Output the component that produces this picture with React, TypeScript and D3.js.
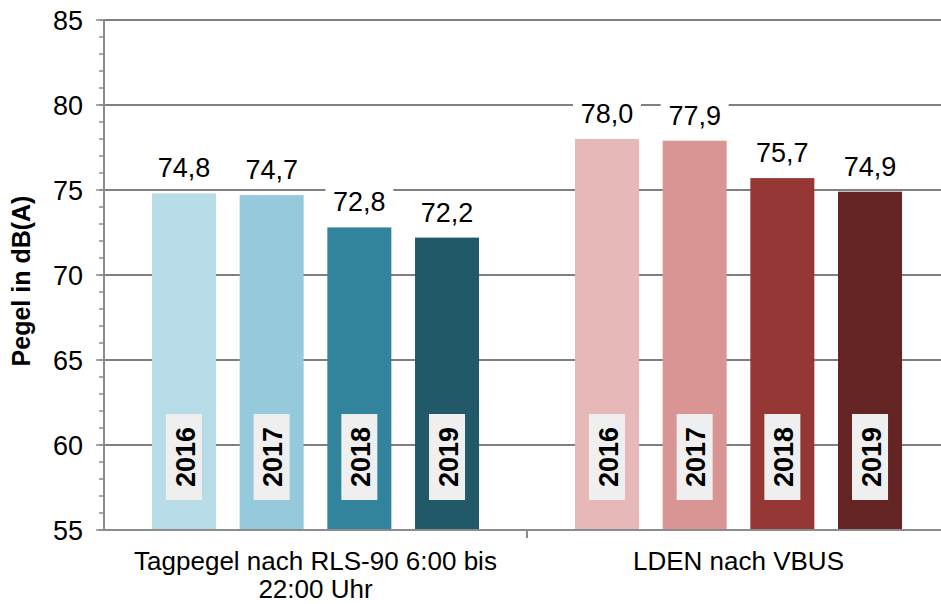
import React from "react";
import * as d3 from "d3";

const categories = ["Tagpegel nach RLS-90 6:00 bis|22:00 Uhr", "LDEN nach VBUS"];
const years = ["2016", "2017", "2018", "2019"];
const tagValues = [74.8, 74.7, 72.8, 72.2];
const ldenValues = [78.0, 77.9, 75.7, 74.9];
const tagColors = ["#b7dce8", "#94cadc", "#31849b", "#215968"];
const ldenColors = ["#e6b9b8", "#d99594", "#953735", "#632423"];
const yTicks = [55, 60, 65, 70, 75, 80, 85];

const W = 941, H = 604;
const left = 104, right = 950, top = 20, bottom = 530;

export default function App() {
  const y = d3.scaleLinear().domain([55, 85]).range([bottom, top]);
  const x0 = d3.scaleBand().domain(categories).range([left, right]);
  const x1 = d3.scaleBand().domain(years).range([0, x0.bandwidth()]).paddingInner(0.27).paddingOuter(0.547);
  const series = [
    { cat: categories[0], values: tagValues, colors: tagColors },
    { cat: categories[1], values: ldenValues, colors: ldenColors },
  ];
  const minor = d3.range(55, 86, 1);
  const font = "Arial, 'Liberation Sans', sans-serif";
  const fmt = (v: number) => v.toFixed(1).replace(".", ",");

  return (
    <svg width={W} height={H} style={{ position: "absolute", left: 0, top: 0, background: "#fff" }} fontFamily={font}>
      {yTicks.filter(t => t > 55).map(t => (
        <line key={"g" + t} x1={left} x2={W} y1={y(t)} y2={y(t)} stroke="#555" strokeWidth={1.3} />
      ))}
      {series.map(s => s.values.map((v, i) => (
        <rect key={s.cat + i} x={x0(s.cat)! + x1(years[i])!} y={y(v)} width={x1.bandwidth()} height={bottom - y(v)} fill={s.colors[i]} />
      )))}
      {series.map(s => s.values.map((v, i) => {
        const cx = x0(s.cat)! + x1(years[i])! + x1.bandwidth() / 2;
        return (
          <g key={"v" + s.cat + i}>
            <rect x={cx - 34} y={y(v) - 42} width={68} height={32} fill="#fff" />
            <text x={cx} y={y(v) - 16} textAnchor="middle" fontSize={27} fill="#000">{fmt(v)}</text>
          </g>
        );
      }))}
      {series.map(s => years.map((yr, i) => {
        const cx = x0(s.cat)! + x1(yr)! + x1.bandwidth() / 2;
        return (
          <g key={"y" + s.cat + i}>
            <rect x={cx - 18} y={414} width={36} height={86} fill="#efefef" />
            <text transform={`translate(${cx + 1},457) rotate(-90)`} textAnchor="middle" dy="0.36em" fontSize={27} fontWeight="bold" fill="#000">{yr}</text>
          </g>
        );
      }))}
      <line x1={left} x2={W} y1={bottom} y2={bottom} stroke="#8c8c8c" strokeWidth={2} />
      <line x1={left} x2={left} y1={top} y2={bottom + 1} stroke="#8c8c8c" strokeWidth={2} />
      {minor.map(t => (
        <line key={"m" + t} x1={99} x2={left} y1={y(t)} y2={y(t)} stroke="#8c8c8c" strokeWidth={1.5} />
      ))}
      {yTicks.map(t => (
        <g key={"t" + t}>
          <line x1={96} x2={left} y1={y(t)} y2={y(t)} stroke="#8c8c8c" strokeWidth={1.5} />
          <text x={83} y={y(t)} dy="0.36em" textAnchor="end" fontSize={27} fill="#000">{t}</text>
        </g>
      ))}
      {categories.map((c, i) => i > 0 ? (
        <line key={"ct" + i} x1={x0(c)!} x2={x0(c)!} y1={bottom} y2={bottom + 8} stroke="#8c8c8c" strokeWidth={2} />
      ) : null)}
      {categories.map(c => {
        const lines = c.split("|");
        const cx = x0(c)! + x0.bandwidth() / 2;
        return (
          <text key={"c" + c} textAnchor="middle" fontSize={26} fill="#000">
            {lines.map((l, j) => (
              <tspan key={j} x={cx} y={570 + j * 28}>{l}</tspan>
            ))}
          </text>
        );
      })}
      <text transform={`translate(30,${(top + bottom) / 2 + 6}) rotate(-90)`} textAnchor="middle" fontSize={25} fontWeight="bold" fill="#000">Pegel in dB(A)</text>
    </svg>
  );
}
